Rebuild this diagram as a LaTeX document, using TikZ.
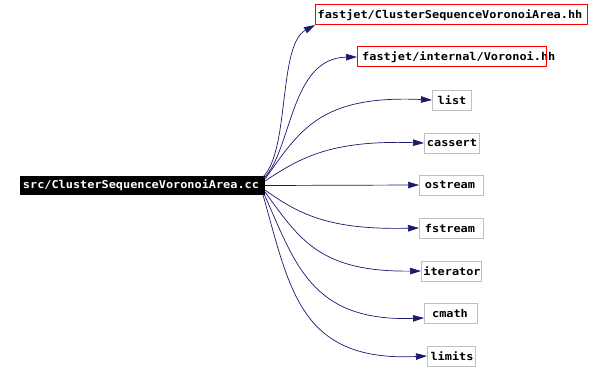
\documentclass[tikz,border=0pt]{standalone}
\usepackage{fontspec}
\setmonofont[FakeStretch=1.1]{DejaVu Sans Mono}
\usetikzlibrary{arrows.meta}
\definecolor{edgeblue}{RGB}{25,25,112}
\definecolor{boxgray}{RGB}{191,191,191}
\tikzset{
  lbl/.style={font=\ttfamily\bfseries\fontsize{10.8}{12}\selectfont, inner sep=0pt, anchor=center},
  tgt/.style={draw=boxgray, line width=0.8pt},
  tgtred/.style={color=red, line width=1pt},
  dep/.style={draw=edgeblue, line width=0.7pt, -{Triangle[length=11pt,width=6.5pt]}},
}
\begin{document}
\begin{tikzpicture}[x=1pt,y=-1pt]
\useasboundingbox (0,0) rectangle (604,374);
% boxes
\fill[black] (20,176) rectangle (265,195);
\node[lbl, text=white] (src) at (141,185.5) {src/ClusterSequenceVoronoiArea.cc};

\node[lbl] (t1) at (450,15) {fastjet/ClusterSequenceVoronoiArea.hh};
\coordinate (t1sw) at (315,25);

\node[lbl,anchor=west] (t2) at (362,57) {fastjet/internal/Voronoi.hh};
\coordinate (t2w) at (357,57);

\path[tgt] (432,90) rectangle (471,110);
\node[lbl] (t3) at (452,100) {list};
\coordinate (t3w) at (432,100);

\path[tgt] (424,133) rectangle (479,153);
\node[lbl] (t4) at (452,143) {cassert};
\coordinate (t4w) at (424,143);

\path[tgt] (419,175) rectangle (483,195);
\node[lbl] (t5) at (450,185) {ostream};
\coordinate (t5w) at (419,185);

\path[tgt] (419,218) rectangle (483,238);
\node[lbl] (t6) at (450,228) {fstream};
\coordinate (t6w) at (419,228);

\path[tgt] (421,261) rectangle (481,281);
\node[lbl] (t7) at (452,271) {iterator};
\coordinate (t7w) at (421,271);

\path[tgt] (424,303) rectangle (477,323);
\node[lbl] (t8) at (450,313) {cmath};
\coordinate (t8w) at (424,318);

\path[tgt] (427,346) rectangle (475,366);
\node[lbl] (t9) at (452,356) {limits};
\coordinate (t9w) at (427,356);

% source anchors
\coordinate (s1) at (263,177);
\coordinate (s2) at (264,178);
\coordinate (s3) at (265,179);
\coordinate (s4) at (265,181);
\coordinate (s5) at (265,185.5);
\coordinate (s6) at (265,190);
\coordinate (s7) at (265,192);
\coordinate (s8) at (264,194);
\coordinate (s9) at (263,195);

% edges
\draw[dep] (s1) .. controls (290,150) and (278,45) .. (t1sw);
\draw[dep] (s2) .. controls (292,150) and (290,58) .. (t2w);
\draw[dep] (s3) .. controls (300,130) and (320,95) .. (t3w);
\draw[dep] (s4) .. controls (300,158) and (330,140) .. (t4w);
\draw[dep] (s5) -- (t5w);
\draw[dep] (s6) .. controls (300,215) and (330,230) .. (t6w);
\draw[dep] (s7) .. controls (300,240) and (320,272) .. (t7w);
\draw[dep] (s8) .. controls (295,262) and (310,322) .. (t8w);
\draw[dep] (s9) .. controls (290,290) and (300,362) .. (t9w);

\draw[tgtred] (315,5) rectangle (587,25);
\draw[tgtred] (357,47) rectangle (546,67);
\end{tikzpicture}
\end{document}
